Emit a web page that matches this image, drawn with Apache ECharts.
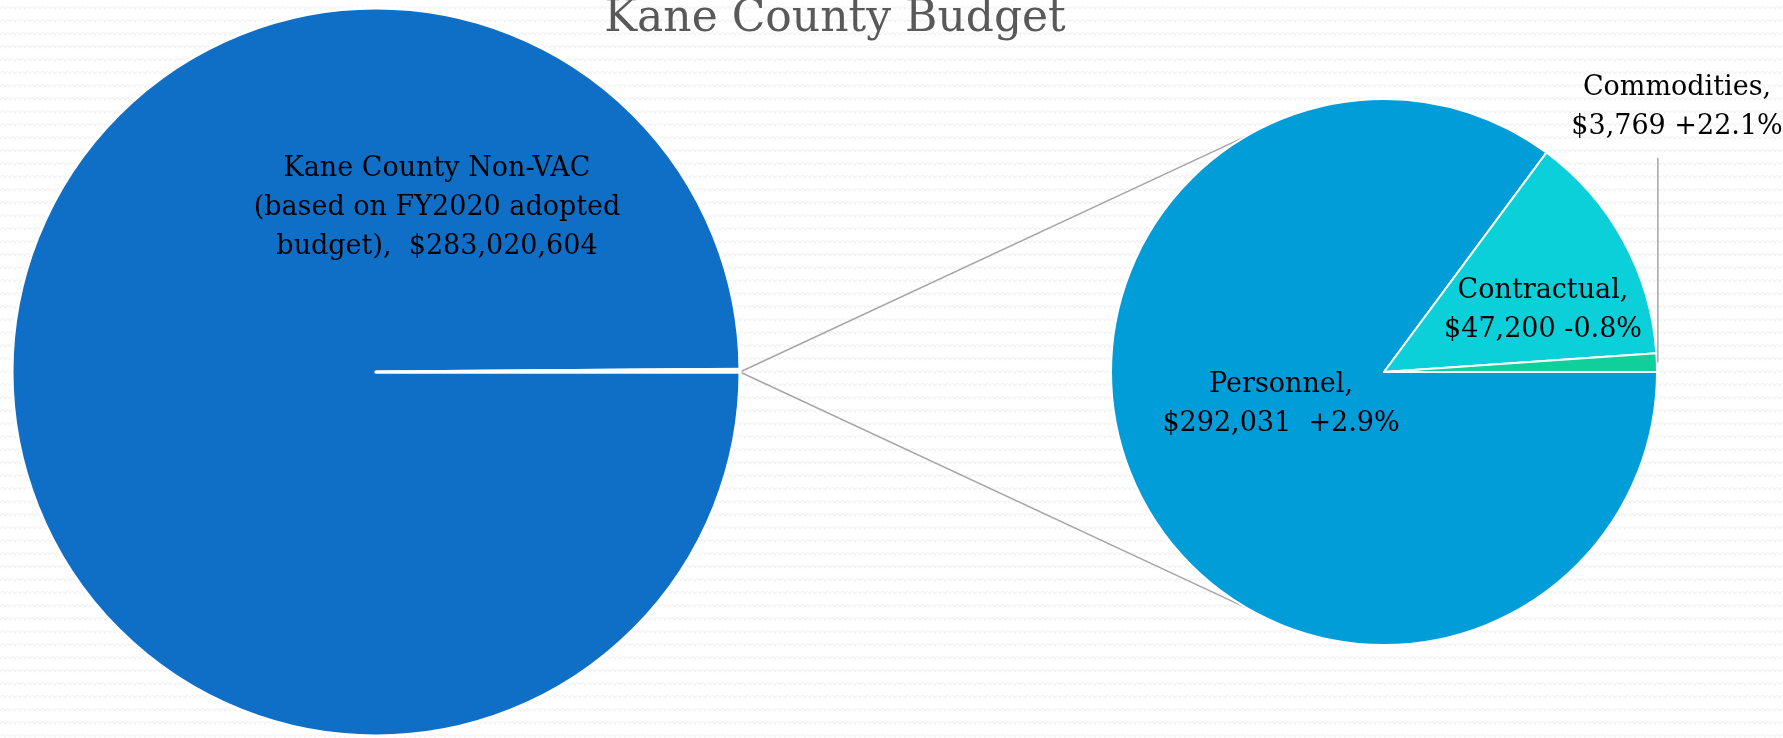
<!DOCTYPE html>
<html>
<head>
<meta charset="utf-8">
<script src="https://cdn.jsdelivr.net/npm/echarts@6/dist/echarts.min.js"></script>
<style>
  html, body { margin: 0; padding: 0; }
  #chart { width: 1783px; height: 738px; }
</style>
</head>
<body>
<div id="chart"></div>
<script>
// left pie: whole county budget, the VAC slice is exploded into the right pie
var outerNames = ['Kane County Non-VAC', 'VAC']
var outerValues = [283020604, 343000]
// right pie: VAC budget breakdown
var innerNames = ['Personnel', 'Contractual', 'Commodities']
var innerValues = [292031, 47200, 3769]
var innerChange = ['+2.9%', '-0.8%', '+22.1%']

var LC = [376, 372], LR = 364   // left pie centre / radius
var RC = [1384, 372], RR = 273  // right pie centre / radius
var FONT = 'DejaVu Serif'

// label anchor offsets from the pie centres
var outerLabelPos = [61, -164]
var innerLabelPos = [[-103, 32], [159, -62], [293, -265]]

function money(v) {
  return '$' + v.toLocaleString('en-US')
}

// faint zig-zag background like the slide template
function patternUrl() {
  var c = document.createElement('canvas')
  c.width = 10
  c.height = 13
  var ctx = c.getContext('2d')
  ctx.fillStyle = '#ffffff'
  ctx.fillRect(0, 0, 10, 13)
  ctx.strokeStyle = '#f1f1f1'
  ctx.lineWidth = 1.2
  ctx.beginPath()
  ctx.moveTo(0, 9)
  ctx.quadraticCurveTo(2.5, 4, 5, 9)
  ctx.quadraticCurveTo(7.5, 4, 10, 9)
  ctx.stroke()
  return c.toDataURL()
}
document.body.style.background = 'url(' + patternUrl() + ')'

var innerTotal = innerValues.reduce(function (a, b) { return a + b }, 0)

// connector lines: from the right edge of the left pie to the right pie at +-120deg
var joinA = Math.PI * 2 / 3
var joinFrom = [LC[0] + LR, LC[1]]
var joinTop = [RC[0] + RR * Math.cos(joinA), RC[1] - RR * Math.sin(joinA)]
var joinBottom = [RC[0] + RR * Math.cos(joinA), RC[1] + RR * Math.sin(joinA)]

// leader for the thin Commodities slice: straight up from the slice middle
var leadA = Math.PI * innerValues[2] / innerTotal
var leadX = RC[0] + RR * Math.cos(leadA)
var leadY = RC[1] - RR * Math.sin(leadA)

var chart = echarts.init(document.getElementById('chart'), null, { renderer: 'canvas' })

chart.setOption({
  backgroundColor: 'transparent',
  animation: false,
  graphic: [
    {
      type: 'text',
      x: 835,
      y: 20,
      style: {
        text: 'Kane County Budget',
        font: '44px "' + FONT + '"',
        fill: '#595959',
        align: 'center',
        verticalAlign: 'middle'
      }
    },
    {
      type: 'line',
      z: -1,
      shape: { x1: joinFrom[0], y1: joinFrom[1], x2: joinTop[0], y2: joinTop[1] },
      style: { stroke: '#a6a6a6', lineWidth: 1.5 }
    },
    {
      type: 'line',
      z: -1,
      shape: { x1: joinFrom[0], y1: joinFrom[1], x2: joinBottom[0], y2: joinBottom[1] },
      style: { stroke: '#a6a6a6', lineWidth: 1.5 }
    },
    {
      type: 'line',
      z: 10,
      shape: { x1: leadX + 1, y1: leadY, x2: leadX + 1, y2: RC[1] - 214 },
      style: { stroke: '#a6a6a6', lineWidth: 1.5 }
    }
  ],
  series: [
    {
      name: 'County',
      type: 'pie',
      center: LC,
      radius: LR,
      startAngle: 0,
      clockwise: true,
      emphasis: { disabled: true },
      itemStyle: { borderColor: '#ffffff', borderWidth: 3 },
      label: {
        position: 'inside',
        color: '#000',
        fontFamily: FONT,
        fontSize: 27,
        lineHeight: 39,
        align: 'center',
        formatter: function (p) {
          if (p.dataIndex !== 0) return ''
          return p.name + '\n(based on FY2020 adopted\nbudget),  ' + money(p.value)
        }
      },
      labelLine: { show: false },
      labelLayout: function (p) {
        if (p.dataIndex !== 0) return {}
        return {
          x: LC[0] + outerLabelPos[0],
          y: LC[1] + outerLabelPos[1],
          align: 'center',
          verticalAlign: 'middle'
        }
      },
      data: outerNames.map(function (n, i) {
        return {
          name: n,
          value: outerValues[i],
          itemStyle: { color: ['#0f6fc6', '#009dd9'][i] }
        }
      })
    },
    {
      name: 'VAC',
      type: 'pie',
      center: RC,
      radius: RR,
      startAngle: 0,
      clockwise: true,
      emphasis: { disabled: true },
      itemStyle: { borderColor: '#ffffff', borderWidth: 2 },
      label: {
        position: 'inside',
        color: '#000',
        fontFamily: FONT,
        fontSize: 27,
        lineHeight: 39,
        align: 'center',
        formatter: function (p) {
          var gap = p.dataIndex === 0 ? '  ' : ' '
          return p.name + ',\n' + money(p.value) + gap + innerChange[p.dataIndex]
        }
      },
      labelLine: { show: false },
      labelLayout: function (p) {
        var pos = innerLabelPos[p.dataIndex]
        return {
          x: RC[0] + pos[0],
          y: RC[1] + pos[1],
          align: 'center',
          verticalAlign: 'middle'
        }
      },
      data: innerNames.map(function (n, i) {
        return {
          name: n,
          value: innerValues[i],
          itemStyle: { color: ['#009dd9', '#0bd0d9', '#10cf9b'][i] }
        }
      })
    }
  ]
})
</script>
</body>
</html>
